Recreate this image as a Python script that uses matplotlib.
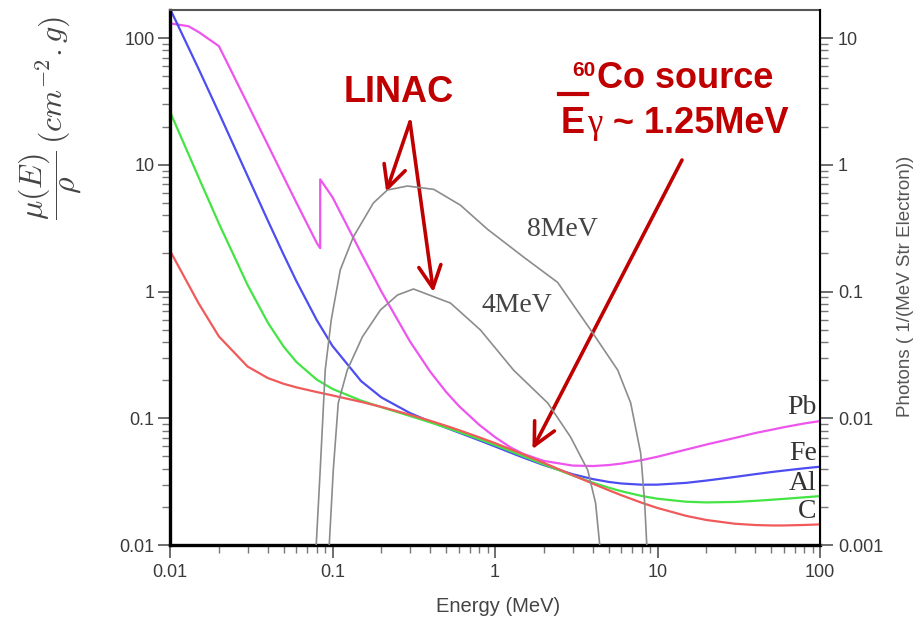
import numpy as np
import matplotlib
matplotlib.use('agg')
import matplotlib.pyplot as plt
from matplotlib.lines import Line2D
from matplotlib.ticker import FixedLocator, FixedFormatter, LogLocator, NullFormatter

plt.rcParams['font.family'] = ['Liberation Sans', 'DejaVu Sans']
plt.rcParams['mathtext.fontset'] = 'cm'

# mass attenuation coefficients (cm2/g)
energy = [0.01, 0.015, 0.02, 0.03, 0.04, 0.05, 0.06, 0.08, 0.1, 0.15, 0.2, 0.3,
          0.4, 0.5, 0.6, 0.8, 1, 1.25, 1.5, 2, 3, 4, 5, 6, 8, 10, 15, 20, 30,
          40, 50, 60, 80, 100]
mu_fe = [170.6, 57.08, 25.68, 8.176, 3.629, 1.958, 1.205, 0.5952, 0.3717, 0.1964,
         0.146, 0.1099, 0.094, 0.08414, 0.07704, 0.06699, 0.05995, 0.0535, 0.04883,
         0.04265, 0.03621, 0.03312, 0.03146, 0.03057, 0.02991, 0.02994, 0.03092,
         0.03224, 0.03445, 0.03623, 0.03761, 0.03866, 0.04029, 0.04148]
mu_al = [26.23, 7.955, 3.441, 1.128, 0.5685, 0.3681, 0.2778, 0.2018, 0.1704, 0.1378,
         0.1223, 0.1042, 0.09276, 0.08445, 0.07802, 0.06841, 0.06146, 0.05496, 0.05006,
         0.04324, 0.03541, 0.03106, 0.02836, 0.02655, 0.02437, 0.02318, 0.02195,
         0.02168, 0.02187, 0.02231, 0.02274, 0.02312, 0.02378, 0.02431]
mu_c = [2.1, 0.8071, 0.442, 0.2562, 0.2076, 0.1871, 0.1753, 0.161, 0.1514, 0.1347,
        0.1229, 0.1066, 0.09546, 0.08715, 0.08058, 0.07076, 0.06361, 0.0569, 0.05179,
        0.04442, 0.03562, 0.03047, 0.02708, 0.02469, 0.02154, 0.01959, 0.01698,
        0.01575, 0.01471, 0.01437, 0.01426, 0.01426, 0.01439, 0.01454]
energy_pb = [0.01, 0.013, 0.015, 0.02, 0.03, 0.04, 0.05, 0.06, 0.08, 0.084, 0.084,
             0.1, 0.15, 0.2, 0.3, 0.4, 0.5, 0.6, 0.8, 1, 1.25, 1.5, 2, 3, 4, 5, 6,
             8, 10, 15, 20, 30, 40, 50, 60, 80, 100]
mu_pb = [130.6, 124, 111.6, 86.36, 30.32, 14.36, 8.041, 5.021, 2.419, 2.2, 7.68,
         5.549, 2.014, 0.999, 0.4031, 0.2323, 0.1614, 0.1248, 0.0887, 0.07102,
         0.05876, 0.05222, 0.04606, 0.04234, 0.04197, 0.04272, 0.04391, 0.04675,
         0.04972, 0.05658, 0.06206, 0.07, 0.0765, 0.081, 0.085, 0.091, 0.095]

# bremsstrahlung spectra (photons / (MeV sr electron)), right axis
e_8mev = [0.0794, 0.084, 0.0902, 0.0982, 0.1116, 0.1342, 0.1783, 0.2175, 0.289,
          0.42, 0.613, 0.899, 1.5, 2.43, 3.88, 5.69, 6.84, 7.88, 8.34, 8.59]
ph_8mev = [0.001, 0.0039, 0.024, 0.0596, 0.148, 0.269, 0.499, 0.632, 0.68,
           0.64, 0.48, 0.31, 0.187, 0.118, 0.0497, 0.024, 0.0132, 0.0053, 0.00214, 0.001]
e_4mev = [0.0955, 0.1011, 0.1085, 0.1233, 0.1526, 0.197, 0.251, 0.315, 0.532,
          0.814, 1.3, 2.11, 2.92, 3.72, 4.16, 4.41]
ph_4mev = [0.001, 0.0039, 0.0132, 0.024, 0.0438, 0.0714, 0.0938, 0.1047, 0.0811,
           0.0497, 0.024, 0.0132, 0.0071, 0.0039, 0.00214, 0.001]

elements = ['Pb', 'Fe', 'Al', 'C']
colors = ['#ee55ee', '#4d4df2', '#44e444', '#f05a5a']
red = '#c00000'
tick_col = '#3a3a3a'

fig = plt.figure(figsize=(9.15, 6.19), dpi=100)
ax = fig.add_axes([170/915, 1-545/619, 650/915, 535.5/619])
ax2 = ax.twinx()

for e, ph in [(e_8mev, ph_8mev), (e_4mev, ph_4mev)]:
    ax2.plot(e, ph, color='#8c8c8c', lw=1.2)

for (e, mu), c in zip([(energy_pb, mu_pb), (energy, mu_fe), (energy, mu_al), (energy, mu_c)], colors):
    ax.plot(e, mu, color=c, lw=1.6)

ax.set_xscale('log')
ax.set_yscale('log')
ax2.set_yscale('log')
ax.set_xlim(0.01, 100)
ax.set_ylim(0.01, 168)
ax2.set_ylim(0.001, 16.8)

xt = [0.01, 0.1, 1, 10, 100]
ax.xaxis.set_major_locator(FixedLocator(xt))
ax.xaxis.set_major_formatter(FixedFormatter(['0.01', '0.1', '1', '10', '100']))
ax.yaxis.set_major_locator(FixedLocator([0.01, 0.1, 1, 10, 100]))
ax.yaxis.set_major_formatter(FixedFormatter(['0.01', '0.1', '1', '10', '100']))
ax2.yaxis.set_major_locator(FixedLocator([0.001, 0.01, 0.1, 1, 10]))
ax2.yaxis.set_major_formatter(FixedFormatter(['0.001', '0.01', '0.1', '1', '10']))
for a in [ax.xaxis, ax.yaxis, ax2.yaxis]:
    a.set_minor_locator(LogLocator(base=10, subs=np.arange(2, 10), numticks=20))
    a.set_minor_formatter(NullFormatter())

ax.tick_params(axis='both', which='major', direction='out', length=9, width=1.2,
               labelsize=13, labelcolor=tick_col, color='#555555')
ax.tick_params(axis='both', which='minor', direction='out', length=6, width=1.0, color='#777777')
ax.tick_params(axis='y', pad=2)
ax.tick_params(axis='x', pad=5)
ax2.tick_params(axis='y', which='major', direction='out', length=9, width=1.2,
                labelsize=13, labelcolor=tick_col, color='#555555', pad=4)
ax2.tick_params(axis='y', which='minor', direction='out', length=6, width=1.0, color='#777777')

for s in ['left', 'bottom']:
    ax.spines[s].set_linewidth(2.4)
ax.spines['top'].set_linewidth(1.5)
ax.spines['top'].set_color('#555555')
ax2.spines['right'].set_linewidth(1.5)
for s in ['left', 'bottom', 'top']:
    ax2.spines[s].set_visible(False)

# element labels at the right edge
label_y = [407, 453, 484, 512]
for name, yp in zip(elements, label_y):
    ax.text(0.995, (545 - yp)/535.5, name, transform=ax.transAxes, ha='right', va='center',
            fontsize=20, family='Liberation Serif', color='#333333')

ax.text((562 - 170)/650, (545 - 229)/535.5, '8MeV', transform=ax.transAxes, ha='center',
        va='center', fontsize=20, family='Liberation Serif', color='#444444')
ax.text((517 - 170)/650, (545 - 305)/535.5, '4MeV', transform=ax.transAxes, ha='center',
        va='center', fontsize=20, family='Liberation Serif', color='#444444')

# annotations
ax.text((399 - 170)/650, (545 - 102)/535.5, 'LINAC', transform=ax.transAxes, ha='center',
        va='baseline', fontsize=26, fontweight='bold', color=red)
arrow = dict(arrowstyle='->,head_length=0.8,head_width=0.4', color=red, lw=2.6,
             shrinkA=0, shrinkB=0, mutation_scale=20)
for tip in [(0.214, 6.1), (0.418, 0.99)]:
    ax.annotate('', xy=tip, xytext=((410 - 170)/650, (545 - 122)/535.5),
                textcoords='axes fraction', arrowprops=arrow)
ax.annotate('', xy=(1.70, 0.057), xytext=((682 - 170)/650, (545 - 160)/535.5),
            textcoords='axes fraction', arrowprops=arrow)

# bar over the E (drawn as a short stroke, like the slide's underscore)
fig.add_artist(Line2D([559/915, 587/915], [1 - 94/619, 1 - 94/619], color=red, lw=3))
ax.text((572 - 170)/650, (545 - 76)/535.5, '60', transform=ax.transAxes, ha='left',
        va='baseline', fontsize=15, fontweight='bold', color=red)
ax.text((597 - 170)/650, (545 - 88)/535.5, 'Co source', transform=ax.transAxes, ha='left',
        va='baseline', fontsize=26, fontweight='bold', color=red)
ax.text((561 - 170)/650, (545 - 133)/535.5, 'E', transform=ax.transAxes,
        ha='left', va='baseline', fontsize=26, fontweight='bold', color=red)
ax.text((587 - 170)/650, (545 - 133)/535.5, '\u03b3', transform=ax.transAxes,
        ha='left', va='baseline', fontsize=25, family='Liberation Serif', color=red)
ax.text((613 - 170)/650, (545 - 133)/535.5, '~ 1.25MeV', transform=ax.transAxes,
        ha='left', va='baseline', fontsize=26, fontweight='bold', color=red)

fig.text(50/915, 1 - 118/619, r'$\dfrac{\mu(E)}{\rho}\,(cm^{-2}.g)$', rotation=90,
         ha='center', va='center', fontsize=23, color='#444444')
fig.text(905/915, 1 - 286/619, 'Photons ( 1/(MeV Str Electron))', rotation=90,
         ha='center', va='center', fontsize=13.5, color='#555555')
fig.text(498/915, 1 - 607/619, 'Energy (MeV)', ha='center', va='center',
         fontsize=14.5, color='#444444')

fig.savefig('out.png', dpi=100)
